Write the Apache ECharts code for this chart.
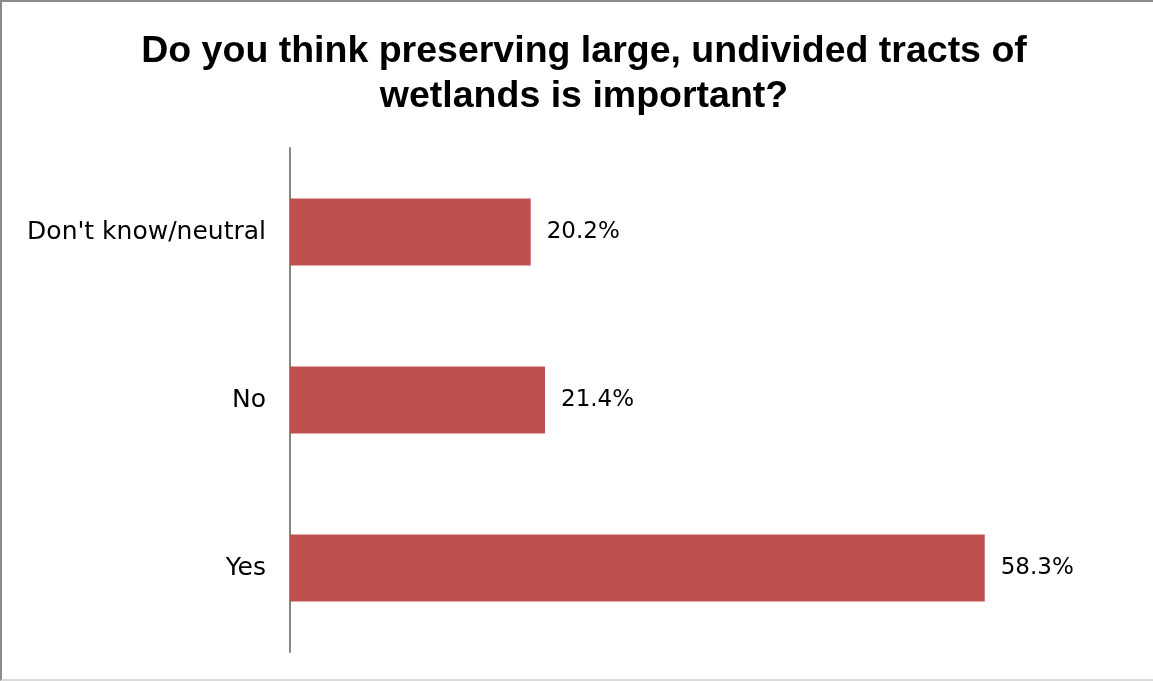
<!DOCTYPE html>
<html><head><meta charset="utf-8">
<script src="https://cdn.jsdelivr.net/npm/echarts@6/dist/echarts.min.js"></script>
<style>
html,body{margin:0;padding:0;background:#fff;}
#frame{position:absolute;left:0;top:0;width:1153px;height:681px;box-sizing:border-box;border-left:2px solid #8a8a8a;border-top:2px solid #8a8a8a;border-bottom:2px solid #d9d9d9;}
#c{position:absolute;left:0;top:0;width:1153px;height:681px;}
</style></head>
<body><div id="frame"></div><div id="c"></div>
<script>
const categories = ["Yes", "No", "Don't know/neutral"];
const values = [58.3, 21.4, 20.2];
const titleText = "Do you think preserving large, undivided tracts of\nwetlands is important?";

const chart = echarts.init(document.getElementById('c'));
chart.setOption({
  animation: false,
  title: {
    text: titleText, left: 579, top: 24, textAlign: 'center',
    textStyle: {fontFamily: 'Liberation Sans', fontWeight: 'bold', fontSize: 37.5, lineHeight: 45, color: '#000'}
  },
  grid: {left: 290, right: 148, top: 148, bottom: 29, containLabel: false},
  xAxis: {type: 'value', min: 0, max: 60, show: false},
  yAxis: {
    type: 'category', data: categories,
    axisLine: {lineStyle: {color: '#868686', width: 2}},
    axisTick: {show: false},
    axisLabel: {margin: 24, fontFamily: 'DejaVu Sans', fontSize: 25, color: '#000'}
  },
  series: [{
    type: 'bar', data: values, barWidth: '40%',
    itemStyle: {color: '#c0504d'},
    label: {show: true, position: 'right', distance: 16, formatter: p => p.value.toFixed(1) + '%',
      fontFamily: 'DejaVu Sans', fontSize: 23, color: '#000'}
  }]
});
</script></body></html>
